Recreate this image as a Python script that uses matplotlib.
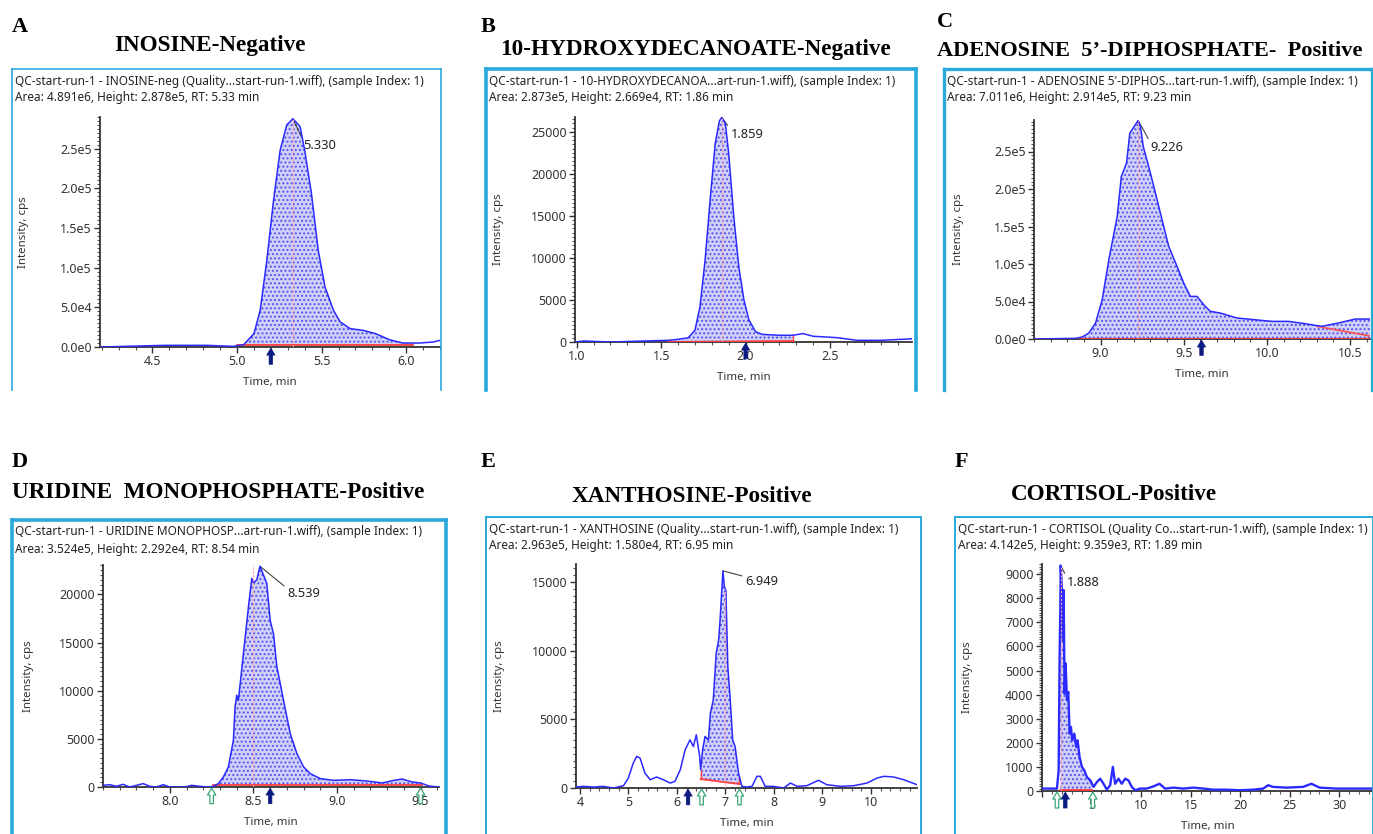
import numpy as np
import matplotlib
matplotlib.use("Agg")
import matplotlib.pyplot as plt
from matplotlib.lines import Line2D
from matplotlib.ticker import FuncFormatter, MultipleLocator, AutoMinorLocator

W, H = 1373, 834

# ---------------- data ----------------
# A  INOSINE-Negative
t_a = [4.19, 4.57, 4.82, 4.98, 5.04, 5.10, 5.137, 5.176, 5.216, 5.255, 5.294, 5.33,
       5.373, 5.40, 5.44, 5.48, 5.52, 5.57, 5.61, 5.67, 5.745, 5.82, 5.90, 5.98,
       6.08, 6.16, 6.20]
i_a = [0, 2100, 2100, 800, 3000, 16800, 46300, 109000, 185000, 248000, 280000, 287800,
       278000, 248000, 193600, 122000, 75800, 46300, 31600, 23100, 21000, 16800, 9300,
       5000, 5000, 6300, 8400]

# B  10-HYDROXYDECANOATE-Negative
t_b = [0.99, 1.04, 1.20, 1.40, 1.544, 1.60, 1.66, 1.70, 1.73, 1.76, 1.79, 1.82, 1.845,
       1.859, 1.88, 1.90, 1.93, 1.96, 1.99, 2.02, 2.06, 2.10, 2.20, 2.28, 2.34, 2.40,
       2.54, 2.66, 2.80, 3.01]
i_b = [0, 120, 0, 120, 200, 320, 500, 1400, 4200, 9700, 16900, 23600, 26300,
       26690, 26000, 22400, 14900, 8900, 5000, 2600, 1200, 900, 800, 800, 1000, 680,
       520, 200, 200, 400]

# C  ADENOSINE 5'-DIPHOSPHATE-Positive
t_c = [8.60, 8.852, 8.89, 8.93, 8.97, 9.01, 9.05, 9.10, 9.125, 9.156, 9.176, 9.226,
       9.24, 9.257, 9.30, 9.33, 9.36, 9.41, 9.46, 9.50, 9.54, 9.58, 9.62, 9.66, 9.72,
       9.82, 9.925, 10.03, 10.13, 10.23, 10.33, 10.43, 10.53, 10.62]
i_c = [0, 900, 2700, 8000, 21300, 52400, 105700, 163000, 216700, 234400, 274400, 291400,
       283000, 256600, 221000, 194500, 167800, 123400, 96800, 74600, 56800, 56800, 45700,
       36900, 34600, 28000, 25750, 23500, 23500, 20400, 16900, 21300, 26600, 26600]

# D  URIDINE MONOPHOSPHATE-Positive
t_d = [7.60, 7.64, 7.68, 7.72, 7.76, 7.80, 7.84, 7.88, 7.92, 7.96, 8.00, 8.04, 8.09,
       8.13, 8.18, 8.23, 8.26, 8.29, 8.32, 8.35, 8.38, 8.39, 8.40, 8.41, 8.44, 8.47,
       8.49, 8.50, 8.52, 8.539, 8.58, 8.60, 8.62, 8.64, 8.68, 8.72, 8.76, 8.80, 8.84,
       8.90, 8.98, 9.08, 9.18, 9.27, 9.34, 9.39, 9.45, 9.50, 9.55, 9.61]
i_d = [170, 240, 70, 280, 0, 170, 350, 70, 0, 240, 0, 0, 0,
       170, 70, 0, 70, 350, 1040, 2080, 4850, 8300, 9530, 9000, 13860, 18700,
       21660, 21200, 21500, 22920, 21140, 17300, 15900, 12500, 9000, 5550, 3470, 2080, 1390,
       870, 690, 760, 620, 420, 690, 830, 520, 420, 100, 0]

# E  XANTHOSINE-Positive
t_e = [3.92, 4.07, 4.28, 4.48, 4.69, 4.90, 5.00, 5.10, 5.17, 5.24, 5.34, 5.45, 5.58,
       5.72, 5.86, 5.96, 6.07, 6.17, 6.27, 6.34, 6.40, 6.47, 6.49, 6.53, 6.58, 6.65,
       6.69, 6.75, 6.81, 6.86, 6.89, 6.949, 6.98, 7.01, 7.05, 7.10, 7.15, 7.20, 7.27,
       7.34, 7.44, 7.55, 7.65, 7.72, 7.82, 7.99, 8.20, 8.34, 8.48, 8.68, 8.92, 9.09,
       9.37, 9.65, 9.92, 10.13, 10.27, 10.47, 10.68, 10.82, 10.95]
i_e = [70, 120, 70, 120, 0, 170, 730, 1810, 2300, 2180, 1090, 600, 800,
       600, 360, 480, 1330, 2780, 3500, 3020, 3870, 2300, 1330, 2780, 3750, 3500,
       5440, 6410, 9800, 10760, 12200, 15800, 14600, 14400, 8830, 6410, 3500, 3020, 1090,
       120, 70, 120, 850, 850, 120, 120, 0, 360, 120, 170, 560, 240,
       120, 170, 360, 730, 850, 800, 600, 410, 240]

# F  CORTISOL-Positive
t_f = [0.0, 0.84, 1.51, 1.68, 1.78, 1.85, 1.888, 2.01, 2.11, 2.18, 2.28, 2.38, 2.52,
       2.65, 2.79, 2.92, 3.05, 3.26, 3.46, 3.59, 3.79, 4.03, 4.26, 4.53, 4.87, 5.20,
       5.54, 5.87, 6.21, 6.54, 6.88, 7.15, 7.38, 7.72, 8.05, 8.39, 8.72, 9.06, 9.40,
       9.90, 10.57, 11.24, 11.85, 12.42, 13.25, 14.26, 15.27, 16.27, 17.28, 18.62,
       19.97, 21.31, 22.32, 22.82, 23.32, 24.66, 26.34, 27.18, 28.02, 29.70, 31.38, 33.36]
i_f = [100, 100, 100, 860, 5700, 7640, 9359, 8340, 6260, 8340, 4040, 5290, 3770,
       4110, 2380, 2660, 2100, 2380, 1830, 2100, 1410, 1000, 860, 580, 440, 170,
       370, 510, 300, 55, 240, 1000, 300, 510, 300, 510, 440, 170, 30,
       100, 100, 190, 300, 100, 140, 100, 140, 100, 55, 55,
       30, 55, 100, 240, 170, 140, 170, 300, 140, 100, 100, 100]

letters = ["A", "B", "C", "D", "E", "F"]
titles = ["INOSINE-Negative", "10-HYDROXYDECANOATE-Negative",
          "ADENOSINE  5\u2019-DIPHOSPHATE-  Positive", "URIDINE  MONOPHOSPHATE-Positive",
          "XANTHOSINE-Positive", "CORTISOL-Positive"]
title_size = [16.7, 16.7, 16.1, 16.7, 16.7, 16.7]
headers = [
    ("QC-start-run-1 - INOSINE-neg (Quality...start-run-1.wiff), (sample Index: 1)",
     "Area: 4.891e6, Height: 2.878e5, RT: 5.33 min"),
    ("QC-start-run-1 - 10-HYDROXYDECANOA...art-run-1.wiff), (sample Index: 1)",
     "Area: 2.873e5, Height: 2.669e4, RT: 1.86 min"),
    ("QC-start-run-1 - ADENOSINE 5'-DIPHOS...tart-run-1.wiff), (sample Index: 1)",
     "Area: 7.011e6, Height: 2.914e5, RT: 9.23 min"),
    ("QC-start-run-1 - URIDINE MONOPHOSP...art-run-1.wiff), (sample Index: 1)",
     "Area: 3.524e5, Height: 2.292e4, RT: 8.54 min"),
    ("QC-start-run-1 - XANTHOSINE (Quality...start-run-1.wiff), (sample Index: 1)",
     "Area: 2.963e5, Height: 1.580e4, RT: 6.95 min"),
    ("QC-start-run-1 - CORTISOL (Quality Co...start-run-1.wiff), (sample Index: 1)",
     "Area: 4.142e5, Height: 9.359e3, RT: 1.89 min"),
]
peak_rt = [5.330, 1.859, 9.226, 8.539, 6.949, 1.888]
peak_h = [287800, 26690, 291400, 22920, 15800, 9359]
marker_rt = [5.33, 1.86, 9.226, 8.50, 7.00, 1.888]          # pink dashed line
integ_start = [5.00, 1.54, 8.60, 8.26, 6.49, 1.85]
integ_end = [6.04, 2.28, 10.62, 9.51, 7.29, 5.03]
base_start = [2000, 0, 0, 170, 650, 55]
base_end = [2000, 120, 0, 170, 290, 55]
navy_arrow = [5.20, 2.00, 9.607, 8.60, 6.23, 2.35]
green_arrows = [[], [], [], [8.25, 9.50], [6.51, 7.29], [1.51, 5.13]]

xlims = [(4.19, 6.20), (0.99, 2.985), (8.60, 10.62), (7.60, 9.61), (3.92, 10.95), (0.0, 33.4)]
ylims = [2.90e5, 26750, 2.92e5, 23050, 16300, 9420]
xmajor = [0.5, 0.5, 0.5, 0.5, 1.0, 5.0]
ymajor = [5e4, 5000, 5e4, 5000, 5000, 1000]
sci_y = [True, False, True, False, False, False]
label_pos = [(5.39, 2.54e5), (1.91, 24700), (9.30, 2.55e5), (8.70, 20100), (7.40, 15000), (2.5, 8650)]

# ---------------- layout (pixel boxes) ----------------
axes_px = [(100, 117, 440, 347), (575, 117, 912, 342), (1034, 120, 1370, 339),
           (103, 565, 439, 787), (576, 564, 917, 788), (1042, 564, 1373, 791)]
box_px = [(12, 69, 441, 390, 1.2), (486, 69, 916, 390, 2.6), (944, 69, 1372, 390, 2.4),
          (12, 520, 446, 834, 2.6), (486, 517, 921, 834, 1.4), (955, 517, 1373, 834, 1.4)]
ylabel_x = [29, 504, 964, 34, 505, 973]
letter_px = [(12, 27), (481, 27), (937, 22), (12, 462), (481, 462), (955, 462)]
title_px = [(210, 46, "center"), (500, 50, "left"), (937, 51, "left"),
            (12, 493, "left"), (692, 497, "center"), (1114, 495, "center")]

CYAN = "#2aa9dc"
BLUE = "#2a2aff"
UI = ["Noto Sans", "DejaVu Sans"]

fig = plt.figure(figsize=(W / 100, H / 100), dpi=100)
fig.patch.set_facecolor("white")
plt.rcParams["hatch.linewidth"] = 0.9


def fx(x):
    return x / W


def fy(y):
    return 1 - y / H


def sci_fmt(v, pos):
    if v == 0:
        return "0.0e0"
    e = int(np.floor(np.log10(abs(v)) + 1e-9))
    return f"{v / 10 ** e:.1f}e{e}"


series = [(t_a, i_a), (t_b, i_b), (t_c, i_c), (t_d, i_d), (t_e, i_e), (t_f, i_f)]

for k in range(6):
    t = np.array(series[k][0], dtype=float)
    y = np.array(series[k][1], dtype=float)

    # panel frame
    x0, y0, x1, y1, lw = box_px[k]
    for (xa, ya, xb, yb) in [(x0, y0, x1, y0), (x0, y0, x0, y1), (x1, y0, x1, y1)]:
        fig.add_artist(Line2D([fx(xa), fx(xb)], [fy(ya), fy(yb)], color=CYAN, lw=lw))

    lx, ly = letter_px[k]
    fig.text(fx(lx), fy(ly), letters[k], family="Liberation Serif", weight="bold",
             fontsize=16, ha="left", va="center")
    tx, ty, ha = title_px[k]
    fig.text(fx(tx), fy(ty), titles[k], family="Liberation Serif", weight="bold",
             fontsize=title_size[k], ha=ha, va="center")
    h1, h2 = headers[k]
    fig.text(fx(x0 + 3), fy(y0 + 12), h1, family=UI, fontsize=8.5, color="#222",
             ha="left", va="center")
    fig.text(fx(x0 + 3), fy(y0 + 29), h2, family=UI, fontsize=8.5, color="#222",
             ha="left", va="center")

    al, at, ar, ab = axes_px[k]
    ax = fig.add_axes([fx(al), fy(ab), fx(ar - al), (ab - at) / H])
    ax.set_xlim(*xlims[k])
    ax.set_ylim(0, ylims[k])

    # integrated region
    s, e = integ_start[k], integ_end[k]
    tt = np.concatenate(([s], t[(t > s) & (t < e)], [e]))
    yy = np.interp(tt, t, y)
    bb = np.interp(tt, [s, e], [base_start[k], base_end[k]])
    ax.fill_between(tt, bb, np.maximum(yy, bb), facecolor="#cfcff8",
                    edgecolor="#5050f0", hatch="....", lw=0, zorder=1)
    ax.plot([s, e], [base_start[k], base_end[k]], color="#ff3b3b", lw=1.3, zorder=3)
    if k in (1, 4):
        ax.plot([e, e], [base_end[k], np.interp(e, t, y)], color="#ff3b3b", lw=1.0, zorder=3)
    if k == 4:
        ax.plot([s, s], [base_start[k], np.interp(s, t, y)], color="#ff3b3b", lw=1.0, zorder=3)
    if k == 2:
        ax.plot([10.30, 10.62], [17000, 4000], color="#ff5050", lw=1.2, zorder=3)

    ax.plot(t, y, color=BLUE, lw=1.7 if k == 5 else 1.1, zorder=4)

    # retention marker
    ax.plot([marker_rt[k]] * 2, [0, ylims[k] if k == 3 else np.interp(marker_rt[k], t, y)],
            color="#ff9c9c", lw=0.8, ls=(0, (2, 1.5)), zorder=5)

    # peak label with leader line
    lxp, lyp = label_pos[k]
    ax.annotate(f"{peak_rt[k]:.3f}", xy=(peak_rt[k], peak_h[k]), xytext=(lxp, lyp),
                family=UI, fontsize=9.3, color="#222", ha="left", va="center",
                arrowprops=dict(arrowstyle="-", color="#444", lw=0.8,
                                shrinkA=0, shrinkB=0, relpos=(0.0, 0.9)),
                annotation_clip=False)

    # arrows under the axis
    for g in green_arrows[k]:
        ax.annotate("", xy=(g, -0.005), xytext=(g, -0.075),
                    xycoords=("data", "axes fraction"), textcoords=("data", "axes fraction"),
                    arrowprops=dict(arrowstyle="simple,head_width=0.6,head_length=0.5,tail_width=0.25",
                                    fc="white", ec="#3aa776", lw=0.9, shrinkA=0, shrinkB=0),
                    annotation_clip=False)
    ax.annotate("", xy=(navy_arrow[k], -0.005), xytext=(navy_arrow[k], -0.075),
                xycoords=("data", "axes fraction"), textcoords=("data", "axes fraction"),
                arrowprops=dict(arrowstyle="simple,head_width=0.6,head_length=0.5,tail_width=0.25",
                                fc="#0a1a80", ec="#0a1a80", lw=0.5, shrinkA=0, shrinkB=0),
                annotation_clip=False)

    # axes styling
    for side in ("top", "right"):
        ax.spines[side].set_visible(False)
    for side in ("left", "bottom"):
        ax.spines[side].set_color("#333")
        ax.spines[side].set_linewidth(1.3)
    ax.xaxis.set_major_locator(MultipleLocator(xmajor[k]))
    ax.yaxis.set_major_locator(MultipleLocator(ymajor[k]))
    ax.xaxis.set_minor_locator(AutoMinorLocator(5))
    ax.yaxis.set_minor_locator(AutoMinorLocator(10))
    if sci_y[k]:
        ax.yaxis.set_major_formatter(FuncFormatter(sci_fmt))
    if k == 5:
        ax.xaxis.set_major_formatter(FuncFormatter(lambda v, p: "" if v == 0 else f"{v:g}"))
    elif k == 4:
        ax.xaxis.set_major_formatter(FuncFormatter(lambda v, p: f"{v:g}"))
    else:
        ax.xaxis.set_major_formatter(FuncFormatter(lambda v, p: f"{v:.1f}"))
    ax.tick_params(which="major", length=4, width=1.0, color="#333",
                   labelsize=9, labelcolor="#333", pad=2)
    ax.tick_params(which="minor", length=2, width=0.8, color="#555")
    for lab in ax.get_xticklabels() + ax.get_yticklabels():
        lab.set_family(UI)
    ax.set_xlabel("Time, min", family=UI, fontsize=8.3, color="#333", labelpad=6.5)
    ax.set_ylabel("Intensity, cps", family=UI, fontsize=8.3, color="#333")
    ax.yaxis.set_label_coords((ylabel_x[k] - al) / (ar - al), 0.5)

fig.savefig("out.png", dpi=100)
